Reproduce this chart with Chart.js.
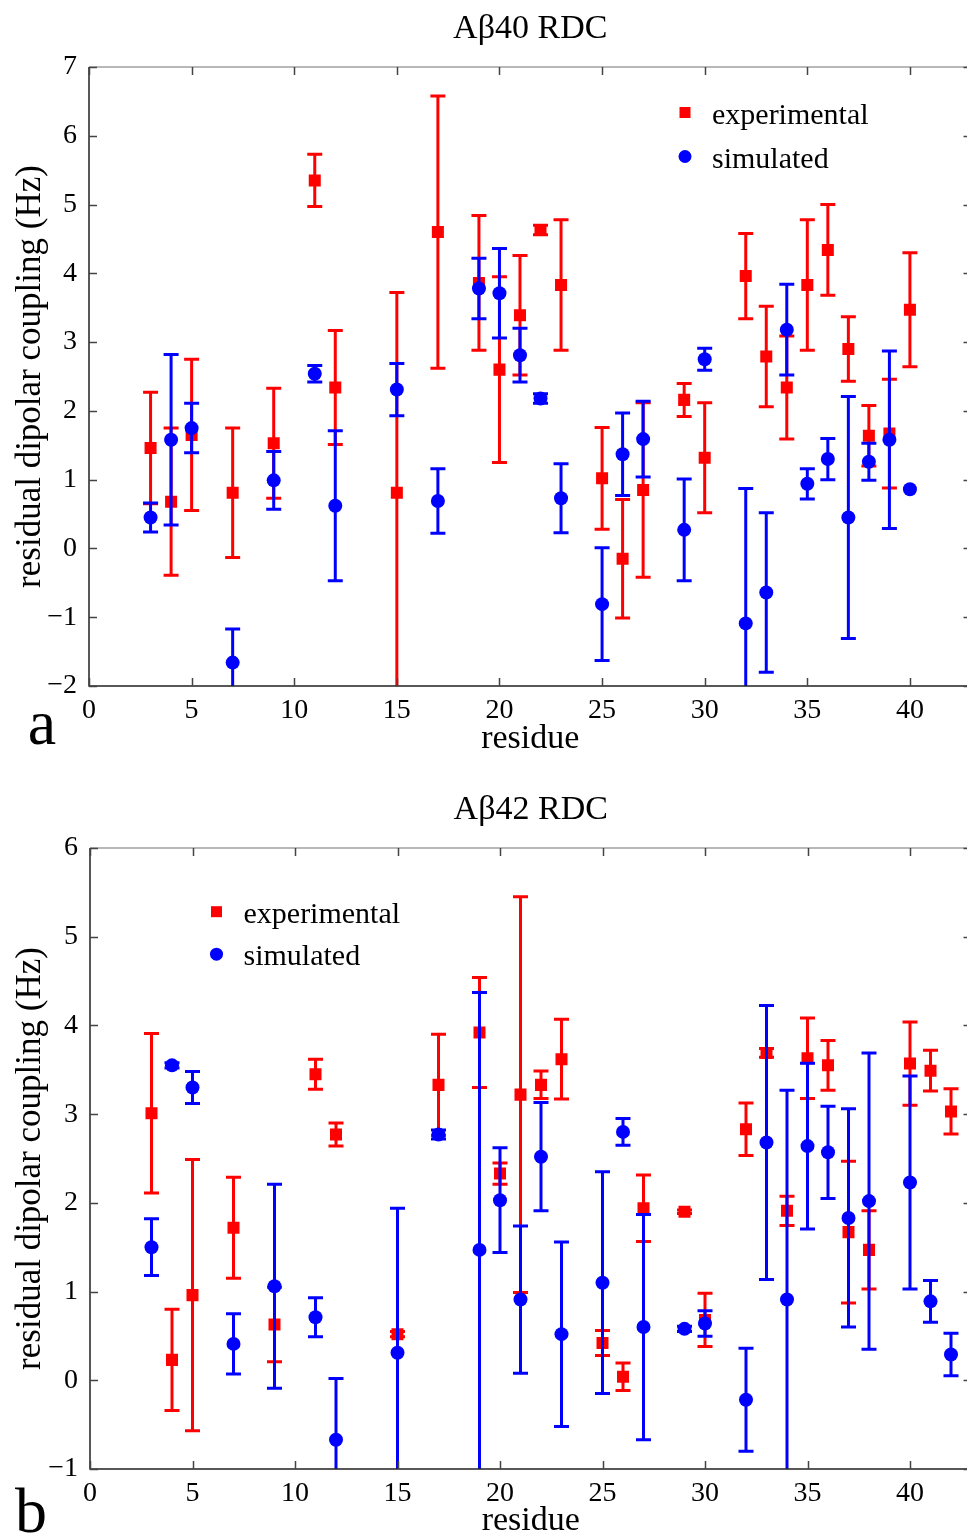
<!DOCTYPE html>
<html>
<head>
<meta charset="utf-8">
<script src="https://cdn.jsdelivr.net/npm/chart.js@4.4.1/dist/chart.umd.min.js"></script>
<style>
  html, body { margin:0; padding:0; background:#fff; }
  body { width:967px; height:1536px; overflow:hidden; position:relative; }
  .panel { position:absolute; left:0; width:967px; overflow:hidden; }
</style>
</head>
<body>
<div class="panel" style="top:0;height:770px;"><canvas id="c1" width="980" height="770"></canvas></div>
<div class="panel" style="top:770px;height:766px;"><canvas id="c2" width="980" height="790"></canvas></div>
<script>
// ---------------- DATA ----------------
// Abeta40 panel (a)
const residues40 = [3,4,5,7,9,11,12,15,17,19,20,21,22,23,25,26,27,29,30,32,33,34,35,36,37,38,39,40];
const exp40    = [1.46,0.68,1.65,0.81,1.53,5.35,2.34,0.81,4.60,3.86,2.60,3.39,4.63,3.83,1.02,-0.15,0.85,2.16,1.32,3.96,2.79,2.34,3.83,4.34,2.90,1.64,1.67,3.47];
const expErr40 = [0.81,1.07,1.10,0.94,0.80,0.38,0.83,2.91,1.98,0.98,1.35,0.87,0.07,0.95,0.74,0.86,1.27,0.24,0.80,0.62,0.73,0.75,0.95,0.66,0.47,0.44,0.79,0.83];
const sim40    = [0.45,1.58,1.75,-1.66,0.99,2.54,0.62,2.31,0.69,3.78,3.71,2.81,2.18,0.73,-0.81,1.37,1.59,0.27,2.75,-1.09,-0.64,3.18,0.94,1.30,0.45,1.26,1.58,0.86];
const simErr40 = [0.21,1.24,0.36,0.49,0.42,0.12,1.09,0.38,0.47,0.44,0.65,0.39,0.07,0.50,0.82,0.60,0.55,0.74,0.16,1.96,1.16,0.66,0.22,0.30,1.76,0.27,1.29,0];

// Abeta42 panel (b)
const residues42 = [3,4,5,7,9,11,12,15,17,19,20,21,22,23,25,26,27,29,30,32,33,34,35,36,37,38,40,41,42];
const exp42    = [3.01,0.23,0.96,1.72,0.63,3.45,2.77,0.52,3.33,3.92,2.33,3.22,3.33,3.62,0.42,0.04,1.94,1.90,0.68,2.83,3.69,1.91,3.63,3.55,1.67,1.47,3.57,3.49,3.03];
const expErr42 = [0.90,0.57,1.53,0.57,0.42,0.17,0.13,0.03,0.57,0.62,0.12,2.23,0.155,0.45,0.14,0.155,0.375,0.02,0.30,0.295,0.05,0.165,0.455,0.28,0.80,0.44,0.47,0.23,0.255];
const sim42    = [1.50,3.55,3.30,0.41,1.06,0.71,-0.67,0.31,2.77,1.47,2.03,0.91,2.52,0.52,1.10,2.80,0.60,0.58,0.64,-0.22,2.68,0.91,2.64,2.57,1.83,2.02,2.23,0.89,0.29];
const simErr42 = [0.32,0.03,0.18,0.34,1.15,0.22,0.69,1.63,0.05,2.90,0.59,0.83,0.61,1.04,1.25,0.15,1.27,0.03,0.145,0.58,1.545,2.36,0.935,0.52,1.23,1.67,1.20,0.235,0.24];

// ticks
const xTicks   = [0,5,10,15,20,25,30,35,40];
const yTicks40 = [-2,-1,0,1,2,3,4,5,6,7];
const yTicks42 = [-1,0,1,2,3,4,5,6];

// labels
const seriesNames = ['experimental','simulated'];
const xTitle = 'residue';
const yTitle = 'residual dipolar coupling (Hz)';

// ---------------- STYLE ----------------
const FONT = '"Liberation Serif", "Times New Roman", Times, serif';
const RED = '#ff0000', BLUE = '#0000ff';

function toPoints(xs, ys){ return xs.map((x,i)=>({x:x, y:ys[i]})); }
function fmt(v){ return v < 0 ? '\u2212' + Math.abs(v) : String(v); }

const matlabPlugin = {
  id: 'matlabBox',
  beforeDatasetDraw(chart, args) {
    const ds = chart.data.datasets[args.index];
    const errs = ds.errorValues;
    if (!errs) return;
    const xs = chart.scales.x, ys = chart.scales.y, ca = chart.chartArea;
    const ctx = chart.ctx;
    ctx.save();
    ctx.beginPath();
    ctx.rect(ca.left, ca.top, ca.right - ca.left, ca.bottom - ca.top);
    ctx.clip();
    ctx.strokeStyle = ds.borderColor;
    ctx.lineWidth = 3;
    ctx.lineCap = 'butt';
    ds.data.forEach((p, i) => {
      const e = errs[i];
      if (!e) return;
      const px = xs.getPixelForValue(p.x);
      const yTop = ys.getPixelForValue(p.y + e);
      const yBot = ys.getPixelForValue(p.y - e);
      const hw = 7.5;
      ctx.beginPath();
      ctx.moveTo(px, yTop); ctx.lineTo(px, yBot);
      ctx.moveTo(px - hw, yTop); ctx.lineTo(px + hw, yTop);
      ctx.moveTo(px - hw, yBot); ctx.lineTo(px + hw, yBot);
      ctx.stroke();
    });
    ctx.restore();
  },
  afterDraw(chart, args, opts) {
    const ctx = chart.ctx, ca = chart.chartArea;
    const xs = chart.scales.x, ys = chart.scales.y;
    ctx.save();
    // box
    ctx.lineWidth = 1.5;
    ctx.strokeStyle = '#a0a0a0';
    ctx.beginPath(); ctx.moveTo(ca.left, ca.top); ctx.lineTo(ca.right, ca.top); ctx.stroke();
    ctx.strokeStyle = '#222';
    ctx.beginPath(); ctx.moveTo(ca.left, ca.top); ctx.lineTo(ca.left, ca.bottom); ctx.lineTo(ca.right, ca.bottom); ctx.stroke();
    ctx.strokeStyle = '#444';
    ctx.beginPath(); ctx.moveTo(ca.right, ca.top); ctx.lineTo(ca.right, ca.bottom); ctx.stroke();
    // inward ticks
    const tl = 8;
    ctx.strokeStyle = '#444';
    ctx.lineWidth = 1.5;
    ctx.beginPath();
    xs.ticks.forEach(t => {
      const px = Math.round(xs.getPixelForValue(t.value)) + 0.5;
      ctx.moveTo(px, ca.bottom); ctx.lineTo(px, ca.bottom - tl);
      ctx.moveTo(px, ca.top); ctx.lineTo(px, ca.top + tl);
    });
    ys.ticks.forEach(t => {
      const py = Math.round(ys.getPixelForValue(t.value)) + 0.5;
      ctx.moveTo(ca.left, py); ctx.lineTo(ca.left + tl, py);
      ctx.moveTo(ca.right, py); ctx.lineTo(ca.right - tl, py);
    });
    ctx.stroke();
    // legend
    const lg = opts.legend;
    if (lg) {
      ctx.font = '30px ' + FONT;
      ctx.textBaseline = 'alphabetic';
      ctx.textAlign = 'left';
      chart.data.datasets.slice().sort((a,b)=>a.legendIndex-b.legendIndex).forEach((ds, k) => {
        const my = lg.y + k * lg.dy;
        ctx.fillStyle = ds.backgroundColor;
        if (ds.pointStyle === 'rect') {
          ctx.fillRect(lg.x - 5.5, my - 5.5, 11, 11);
        } else {
          ctx.beginPath(); ctx.arc(lg.x, my, 6.5, 0, Math.PI * 2); ctx.fill();
        }
        ctx.fillStyle = '#000';
        ctx.fillText(ds.label, lg.x + 27, my + 11);
      });
    }
    // panel letter
    if (opts.letter) {
      ctx.font = '64px ' + FONT;
      ctx.fillStyle = '#000';
      ctx.textAlign = 'center';
      ctx.textBaseline = 'alphabetic';
      ctx.fillText(opts.letter.text, opts.letter.x, opts.letter.y);
    }
    ctx.restore();
  }
};

function makeChart(id, cfg) {
  const datasets = [
    {
      label: seriesNames[0], legendIndex: 0,
      data: toPoints(cfg.residues, cfg.exp), errorValues: cfg.expErr,
      pointStyle: 'rect', pointRadius: 8.5, pointBorderWidth: 0,
      backgroundColor: RED, borderColor: RED, order: 1
    },
    {
      label: seriesNames[1], legendIndex: 1,
      data: toPoints(cfg.residues, cfg.sim), errorValues: cfg.simErr,
      pointStyle: 'circle', pointRadius: 7, pointBorderWidth: 0,
      backgroundColor: BLUE, borderColor: BLUE, order: 0
    }
  ];
  return new Chart(document.getElementById(id), {
    type: 'scatter',
    data: { datasets },
    plugins: [matlabPlugin],
    options: {
      responsive: false,
      animation: false,
      events: [],
      layout: { padding: 0 },
      plugins: {
        legend: { display: false },
        tooltip: { enabled: false },
        title: {
          display: true, text: cfg.title, fullSize: false, color: '#000',
          font: { family: FONT, size: 34, weight: 'normal', lineHeight: 1.2 },
          padding: { top: cfg.titleTop, bottom: cfg.titleBottom }
        },
        matlabBox: { legend: cfg.legend, letter: cfg.letter }
      },
      scales: {
        x: {
          type: 'linear', min: 0, max: 43,
          afterBuildTicks: s => { s.ticks = xTicks.map(v => ({ value: v })); },
          afterFit: s => { s.height = cfg.xHeight; },
          grid: { display: false }, border: { display: false },
          ticks: { color: '#000', font: { family: FONT, size: 28 }, padding: 0, maxRotation: 0, autoSkip: false },
          title: { display: true, text: xTitle, color: '#000',
                   font: { family: FONT, size: 34, lineHeight: 1.2 },
                   padding: { top: 0, bottom: cfg.xTitleBottom } }
        },
        y: {
          type: 'linear', min: cfg.yMin, max: cfg.yMax,
          afterBuildTicks: s => { s.ticks = cfg.yTicks.map(v => ({ value: v })); },
          afterFit: s => { s.width = cfg.yWidth; },
          grid: { display: false }, border: { display: false },
          ticks: { color: '#000', font: { family: FONT, size: 28 }, padding: 4, callback: v => fmt(v) },
          title: { display: true, text: yTitle, color: '#000',
                   font: { family: FONT, size: 35, lineHeight: 1.2 },
                   padding: { top: 10, bottom: 0 } }
        }
      }
    }
  });
}

makeChart('c1', {
  title: 'A\u03B240 RDC', titleTop: 8.6, titleBottom: 17.6,
  residues: residues40, exp: exp40, expErr: expErr40, sim: sim40, simErr: simErr40,
  yMin: -2, yMax: 7, yTicks: yTicks40, yWidth: 89, xHeight: 84, xTitleBottom: 10.6,
  legend: { x: 685, y: 112.5, dy: 44 },
  letter: { text: 'a', x: 42, y: 744 }
});

makeChart('c2', {
  title: 'A\u03B242 RDC', titleTop: 19.6, titleBottom: 17.6,
  residues: residues42, exp: exp42, expErr: expErr42, sim: sim42, simErr: simErr42,
  yMin: -1, yMax: 6, yTicks: yTicks42, yWidth: 90, xHeight: 91, xTitleBottom: 18.6,
  legend: { x: 216.5, y: 141.7, dy: 42.5 },
  letter: { text: 'b', x: 31, y: 762 }
});
</script>
</body>
</html>
